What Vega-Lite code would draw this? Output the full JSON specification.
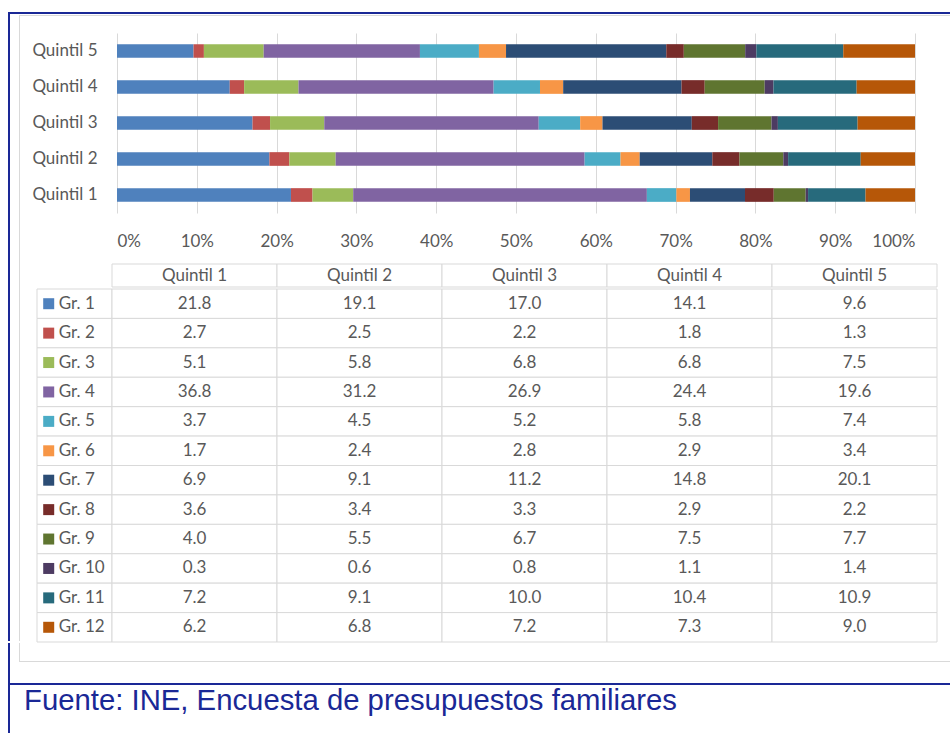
{
  "$schema": "https://vega.github.io/schema/vega-lite/v6.json",
  "background": "white",
  "padding": {"left": 8, "top": 12, "right": 0, "bottom": 0},
  "config": {
    "font": "Lato",
    "view": {"stroke": null},
    "axis": {"labelFont": "Lato", "labelFontSize": 17, "labelColor": "#595959", "domain": false, "ticks": false, "title": null}
  },
  "datasets": {
    "d": [
      {"q": "Quintil 1", "g": "Gr. 1", "n": 1, "v": 21.8}, {"q": "Quintil 2", "g": "Gr. 1", "n": 1, "v": 19.1}, {"q": "Quintil 3", "g": "Gr. 1", "n": 1, "v": 17.0}, {"q": "Quintil 4", "g": "Gr. 1", "n": 1, "v": 14.1}, {"q": "Quintil 5", "g": "Gr. 1", "n": 1, "v": 9.6},
      {"q": "Quintil 1", "g": "Gr. 2", "n": 2, "v": 2.7}, {"q": "Quintil 2", "g": "Gr. 2", "n": 2, "v": 2.5}, {"q": "Quintil 3", "g": "Gr. 2", "n": 2, "v": 2.2}, {"q": "Quintil 4", "g": "Gr. 2", "n": 2, "v": 1.8}, {"q": "Quintil 5", "g": "Gr. 2", "n": 2, "v": 1.3},
      {"q": "Quintil 1", "g": "Gr. 3", "n": 3, "v": 5.1}, {"q": "Quintil 2", "g": "Gr. 3", "n": 3, "v": 5.8}, {"q": "Quintil 3", "g": "Gr. 3", "n": 3, "v": 6.8}, {"q": "Quintil 4", "g": "Gr. 3", "n": 3, "v": 6.8}, {"q": "Quintil 5", "g": "Gr. 3", "n": 3, "v": 7.5},
      {"q": "Quintil 1", "g": "Gr. 4", "n": 4, "v": 36.8}, {"q": "Quintil 2", "g": "Gr. 4", "n": 4, "v": 31.2}, {"q": "Quintil 3", "g": "Gr. 4", "n": 4, "v": 26.9}, {"q": "Quintil 4", "g": "Gr. 4", "n": 4, "v": 24.4}, {"q": "Quintil 5", "g": "Gr. 4", "n": 4, "v": 19.6},
      {"q": "Quintil 1", "g": "Gr. 5", "n": 5, "v": 3.7}, {"q": "Quintil 2", "g": "Gr. 5", "n": 5, "v": 4.5}, {"q": "Quintil 3", "g": "Gr. 5", "n": 5, "v": 5.2}, {"q": "Quintil 4", "g": "Gr. 5", "n": 5, "v": 5.8}, {"q": "Quintil 5", "g": "Gr. 5", "n": 5, "v": 7.4},
      {"q": "Quintil 1", "g": "Gr. 6", "n": 6, "v": 1.7}, {"q": "Quintil 2", "g": "Gr. 6", "n": 6, "v": 2.4}, {"q": "Quintil 3", "g": "Gr. 6", "n": 6, "v": 2.8}, {"q": "Quintil 4", "g": "Gr. 6", "n": 6, "v": 2.9}, {"q": "Quintil 5", "g": "Gr. 6", "n": 6, "v": 3.4},
      {"q": "Quintil 1", "g": "Gr. 7", "n": 7, "v": 6.9}, {"q": "Quintil 2", "g": "Gr. 7", "n": 7, "v": 9.1}, {"q": "Quintil 3", "g": "Gr. 7", "n": 7, "v": 11.2}, {"q": "Quintil 4", "g": "Gr. 7", "n": 7, "v": 14.8}, {"q": "Quintil 5", "g": "Gr. 7", "n": 7, "v": 20.1},
      {"q": "Quintil 1", "g": "Gr. 8", "n": 8, "v": 3.6}, {"q": "Quintil 2", "g": "Gr. 8", "n": 8, "v": 3.4}, {"q": "Quintil 3", "g": "Gr. 8", "n": 8, "v": 3.3}, {"q": "Quintil 4", "g": "Gr. 8", "n": 8, "v": 2.9}, {"q": "Quintil 5", "g": "Gr. 8", "n": 8, "v": 2.2},
      {"q": "Quintil 1", "g": "Gr. 9", "n": 9, "v": 4.0}, {"q": "Quintil 2", "g": "Gr. 9", "n": 9, "v": 5.5}, {"q": "Quintil 3", "g": "Gr. 9", "n": 9, "v": 6.7}, {"q": "Quintil 4", "g": "Gr. 9", "n": 9, "v": 7.5}, {"q": "Quintil 5", "g": "Gr. 9", "n": 9, "v": 7.7},
      {"q": "Quintil 1", "g": "Gr. 10", "n": 10, "v": 0.3}, {"q": "Quintil 2", "g": "Gr. 10", "n": 10, "v": 0.6}, {"q": "Quintil 3", "g": "Gr. 10", "n": 10, "v": 0.8}, {"q": "Quintil 4", "g": "Gr. 10", "n": 10, "v": 1.1}, {"q": "Quintil 5", "g": "Gr. 10", "n": 10, "v": 1.4},
      {"q": "Quintil 1", "g": "Gr. 11", "n": 11, "v": 7.2}, {"q": "Quintil 2", "g": "Gr. 11", "n": 11, "v": 9.1}, {"q": "Quintil 3", "g": "Gr. 11", "n": 11, "v": 10.0}, {"q": "Quintil 4", "g": "Gr. 11", "n": 11, "v": 10.4}, {"q": "Quintil 5", "g": "Gr. 11", "n": 11, "v": 10.9},
      {"q": "Quintil 1", "g": "Gr. 12", "n": 12, "v": 6.2}, {"q": "Quintil 2", "g": "Gr. 12", "n": 12, "v": 6.8}, {"q": "Quintil 3", "g": "Gr. 12", "n": 12, "v": 7.2}, {"q": "Quintil 4", "g": "Gr. 12", "n": 12, "v": 7.3}, {"q": "Quintil 5", "g": "Gr. 12", "n": 12, "v": 9.0}
    ],
    "none": [],
    "src": [{"t": "Fuente: INE, Encuesta de presupuestos familiares"}]
  },
  "data": {"name": "d"},
  "spacing": 0,
  "vconcat": [
    {"width": 942, "height": 2, "data": {"name": "none"}, "mark": "rect", "encoding": {}, "view": {"fill": "#1a2896", "stroke": null}},
    {"width": 2, "height": 1, "data": {"name": "none"}, "mark": "rect", "encoding": {}, "view": {"fill": "#1a2896", "stroke": null}},
    {"spacing": 0, "bounds": "flush", "hconcat": [
      {"width": 2, "height": 1, "data": {"name": "none"}, "mark": "rect", "encoding": {}, "view": {"fill": "#1a2896", "stroke": null}},
      {"width": 9, "height": 1, "data": {"name": "none"}, "mark": "rect", "encoding": {}},
      {"width": 931, "height": 1, "data": {"name": "none"}, "mark": "rect", "encoding": {}, "view": {"fill": "#d9d9d9", "stroke": null}}
    ]},
    {"spacing": 0, "bounds": "flush", "hconcat": [
      {"width": 2, "height": 17, "data": {"name": "none"}, "mark": "rect", "encoding": {}, "view": {"fill": "#1a2896", "stroke": null}},
      {"width": 9, "height": 1, "data": {"name": "none"}, "mark": "rect", "encoding": {}},
      {"width": 1, "height": 17, "data": {"name": "none"}, "mark": "rect", "encoding": {}, "view": {"fill": "#d9d9d9", "stroke": null}}
    ]},
    {"spacing": 0, "bounds": "flush", "hconcat": [
      {"width": 2, "height": 608, "data": {"name": "none"}, "mark": "rect", "encoding": {}, "view": {"fill": "#1a2896", "stroke": null}},
      {"width": 9, "height": 1, "data": {"name": "none"}, "mark": "rect", "encoding": {}},
      {"width": 1, "height": 608, "data": {"name": "none"}, "mark": "rect", "encoding": {}, "view": {"fill": "#d9d9d9", "stroke": null}},
      {"width": 17, "height": 1, "data": {"name": "none"}, "mark": "rect", "encoding": {}},
      {"columns": 1, "align": "none", "spacing": 0, "concat": [
        {"spacing": 0, "bounds": "flush", "hconcat": [
          {"width": 80, "height": 230, "data": {"name": "none"}, "mark": "rect", "encoding": {}},
          {
            "width": 798,
            "height": 180,
            "mark": {"type": "bar"},
            "encoding": {
              "y": {"field": "q", "type": "nominal", "sort": ["Quintil 5", "Quintil 4", "Quintil 3", "Quintil 2", "Quintil 1"], "scale": {"paddingInner": 0.62, "paddingOuter": 0.31}, "axis": {"labelPadding": 20}},
              "x": {"field": "v", "type": "quantitative", "stack": "normalize", "axis": {"format": "%", "values": [0, 0.1, 0.2, 0.3, 0.4, 0.5, 0.6, 0.7, 0.8, 0.9, 1], "grid": true, "gridColor": "#d9d9d9", "labelPadding": 20}},
              "color": {"field": "g", "type": "nominal", "legend": null, "scale": {"domain": ["Gr. 1", "Gr. 2", "Gr. 3", "Gr. 4", "Gr. 5", "Gr. 6", "Gr. 7", "Gr. 8", "Gr. 9", "Gr. 10", "Gr. 11", "Gr. 12"], "range": ["#4F81BD", "#C0504D", "#9BBB59", "#8064A2", "#4BACC6", "#F79646", "#2C4D75", "#772C2A", "#5F7530", "#4D3B62", "#276A7C", "#B65708"]}},
              "order": {"field": "n", "type": "quantitative"}
            }
          }
        ]},
        {"spacing": 0, "bounds": "flush", "hconcat": [
          {"width": 75, "height": 1, "data": {"name": "none"}, "mark": "rect", "encoding": {}},
          {
            "width": 825, "height": 23,
            "transform": [{"aggregate": [{"op": "count", "as": "c"}], "groupby": ["q"]}],
            "encoding": {"x": {"field": "q", "type": "nominal", "scale": {"type": "band", "paddingInner": 0, "paddingOuter": 0}, "axis": null}},
            "layer": [
              {"mark": {"type": "rect", "fill": "white", "stroke": "#d9d9d9", "strokeWidth": 1}},
              {"mark": {"type": "text", "fontSize": 17, "color": "#595959"}, "encoding": {"text": {"field": "q"}}}
            ]
          }
        ]},
        {"spacing": 0, "bounds": "flush", "hconcat": [
          {
            "width": 75, "height": 353,
            "transform": [{"aggregate": [{"op": "min", "field": "n", "as": "n"}], "groupby": ["g"]}],
            "encoding": {
              "y": {"field": "g", "type": "nominal", "sort": ["Gr. 1", "Gr. 2", "Gr. 3", "Gr. 4", "Gr. 5", "Gr. 6", "Gr. 7", "Gr. 8", "Gr. 9", "Gr. 10", "Gr. 11", "Gr. 12"], "scale": {"type": "band", "paddingInner": 0, "paddingOuter": 0}, "axis": null}
            },
            "layer": [
              {"mark": {"type": "rect", "fill": "white", "stroke": "#d9d9d9", "strokeWidth": 1}, "encoding": {"x": {"datum": "a", "type": "nominal", "scale": {"type": "band", "paddingInner": 0, "paddingOuter": 0}, "axis": null}}},
              {"mark": {"type": "square", "size": 121, "opacity": 1}, "encoding": {"x": {"datum": "a", "type": "nominal", "bandPosition": 0.156, "axis": null}, "color": {"field": "g", "type": "nominal", "legend": null, "scale": {"domain": ["Gr. 1", "Gr. 2", "Gr. 3", "Gr. 4", "Gr. 5", "Gr. 6", "Gr. 7", "Gr. 8", "Gr. 9", "Gr. 10", "Gr. 11", "Gr. 12"], "range": ["#4F81BD", "#C0504D", "#9BBB59", "#8064A2", "#4BACC6", "#F79646", "#2C4D75", "#772C2A", "#5F7530", "#4D3B62", "#276A7C", "#B65708"]}}}},
              {"mark": {"type": "text", "align": "left", "fontSize": 17, "color": "#595959"}, "encoding": {"x": {"datum": "a", "type": "nominal", "bandPosition": 0.29, "axis": null}, "text": {"field": "g"}}}
            ]
          },
          {
            "width": 825, "height": 353,
            "encoding": {
              "x": {"field": "q", "type": "nominal", "scale": {"type": "band", "paddingInner": 0, "paddingOuter": 0}, "axis": null},
              "y": {"field": "g", "type": "nominal", "sort": ["Gr. 1", "Gr. 2", "Gr. 3", "Gr. 4", "Gr. 5", "Gr. 6", "Gr. 7", "Gr. 8", "Gr. 9", "Gr. 10", "Gr. 11", "Gr. 12"], "scale": {"type": "band", "paddingInner": 0, "paddingOuter": 0}, "axis": null}
            },
            "layer": [
              {"mark": {"type": "rect", "fill": "white", "stroke": "#d9d9d9", "strokeWidth": 1}},
              {"mark": {"type": "text", "fontSize": 17, "color": "#595959"}, "encoding": {"text": {"field": "v", "type": "quantitative", "format": ".1f"}}}
            ]
          }
        ]}
      ]}
    ]},
    {"spacing": 0, "bounds": "flush", "hconcat": [
      {"width": 2, "height": 18, "data": {"name": "none"}, "mark": "rect", "encoding": {}, "view": {"fill": "#1a2896", "stroke": null}},
      {"width": 9, "height": 1, "data": {"name": "none"}, "mark": "rect", "encoding": {}},
      {"width": 1, "height": 18, "data": {"name": "none"}, "mark": "rect", "encoding": {}, "view": {"fill": "#d9d9d9", "stroke": null}}
    ]},
    {"spacing": 0, "bounds": "flush", "hconcat": [
      {"width": 2, "height": 22, "data": {"name": "none"}, "mark": "rect", "encoding": {}, "view": {"fill": "#1a2896", "stroke": null}},
      {"width": 9, "height": 1, "data": {"name": "none"}, "mark": "rect", "encoding": {}},
      {"width": 931, "height": 1, "data": {"name": "none"}, "mark": "rect", "encoding": {}, "view": {"fill": "#d9d9d9", "stroke": null}}
    ]},
    {"width": 942, "height": 2, "data": {"name": "none"}, "mark": "rect", "encoding": {}, "view": {"fill": "#1a2896", "stroke": null}},
    {"spacing": 0, "bounds": "flush", "hconcat": [
      {"width": 2, "height": 48, "data": {"name": "none"}, "mark": "rect", "encoding": {}, "view": {"fill": "#1a2896", "stroke": null}},
      {"width": 681, "height": 32, "data": {"name": "src"}, "mark": {"type": "text", "font": "Liberation Sans", "fontSize": 29.3, "color": "#1a2896", "align": "center", "baseline": "middle"}, "encoding": {"text": {"field": "t"}}}
    ]}
  ]
}
